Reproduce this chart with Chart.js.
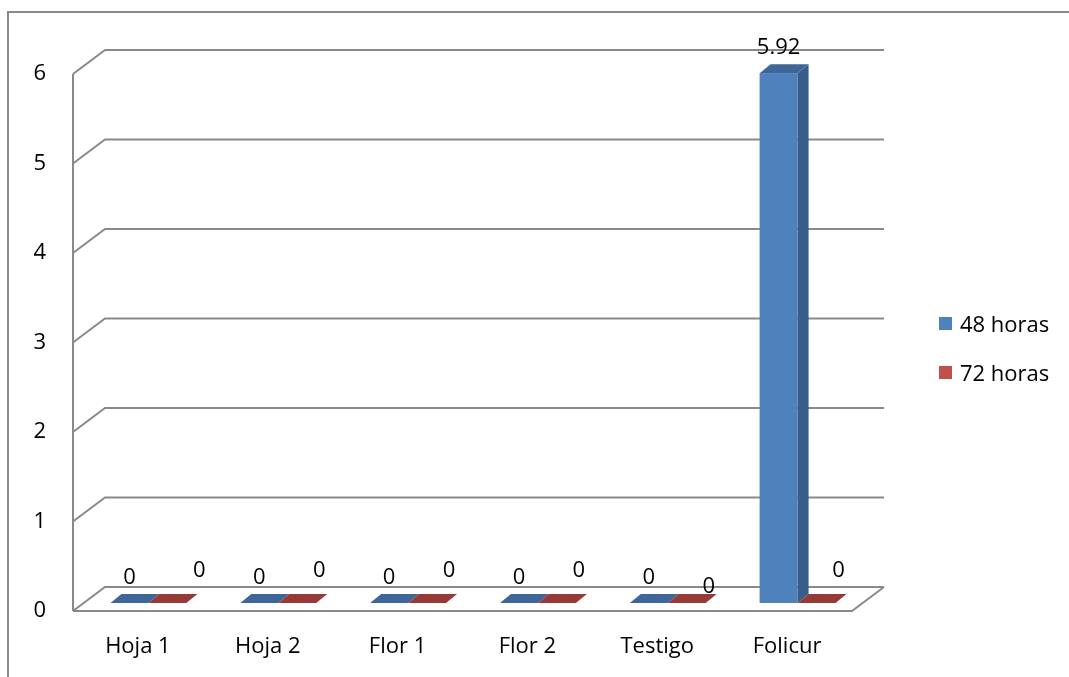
<!DOCTYPE html>
<html>
<head>
<meta charset="utf-8">
<script src="https://cdn.jsdelivr.net/npm/chart.js@4"></script>
<style>
  html, body { margin: 0; padding: 0; background: #ffffff; }
  #wrap { position: relative; width: 1069px; height: 677px; }
  canvas { display: block; }
</style>
</head>
<body>
<div id="wrap"><canvas id="chart" width="1069" height="677"></canvas></div>
<script>
// Data
const categories = ['Hoja 1', 'Hoja 2', 'Flor 1', 'Flor 2', 'Testigo', 'Folicur'];
const horas48 = [0, 0, 0, 0, 0, 5.92];
const horas72 = [0, 0, 0, 0, 0, 0];
const seriesNames = ['48 horas', '72 horas'];
const yTicks = [0, 1, 2, 3, 4, 5, 6];

const FONT = { family: "'Open Sans', 'DejaVu Sans', sans-serif", size: 22 };
const TEXT = '#000000';
const LINE = '#898989';

// face colours for each series: front, side, top
const faces = [
  { front: '#4f81bd', side: '#385d8a', top: '#3e6699' },
  { front: '#c0504d', side: '#8c3836', top: '#963a37' }
];

// 3D geometry: wall depth, offset of the bar front plane, bar depth
const WALL = { dx: 32, dy: -24 };
const BARFRONT = { dx: 10.5, dy: -8 };
const BARDEPTH = { dx: 11, dy: -9 };

function poly(ctx, pts, fill) {
  ctx.beginPath();
  ctx.moveTo(pts[0][0], pts[0][1]);
  for (let i = 1; i < pts.length; i++) ctx.lineTo(pts[i][0], pts[i][1]);
  ctx.closePath();
  ctx.fillStyle = fill;
  ctx.fill();
}

const box3d = {
  id: 'box3d',
  beforeDraw(chart) {
    const ctx = chart.ctx;
    ctx.save();
    ctx.strokeStyle = LINE;
    ctx.lineWidth = 2;
    ctx.beginPath();
    ctx.moveTo(8, 677);
    ctx.lineTo(8, 12);
    ctx.lineTo(1069, 12);
    ctx.stroke();
    ctx.restore();
  },
  beforeDatasetsDraw(chart) {
    const ctx = chart.ctx;
    const ys = chart.scales.y;
    const a = chart.chartArea;
    ctx.save();
    ctx.strokeStyle = LINE;
    ctx.lineWidth = 2;
    ctx.lineJoin = 'miter';
    // back wall gridlines with their side-wall connectors
    yTicks.forEach(v => {
      const py = ys.getPixelForValue(v);
      ctx.beginPath();
      ctx.moveTo(a.left, py);
      ctx.lineTo(a.left + WALL.dx, py + WALL.dy);
      ctx.lineTo(a.right + WALL.dx, py + WALL.dy);
      ctx.stroke();
    });
    // front edge of the side wall
    ctx.beginPath();
    ctx.moveTo(a.left, ys.getPixelForValue(yTicks[yTicks.length - 1]));
    ctx.lineTo(a.left, a.bottom);
    ctx.stroke();
    // floor front edge and right edge
    const fy = ys.getPixelForValue(0);
    ctx.beginPath();
    ctx.moveTo(a.left, fy);
    ctx.lineTo(a.right, fy);
    ctx.lineTo(a.right + WALL.dx, fy + WALL.dy);
    ctx.stroke();
    ctx.restore();
  },
  beforeDatasetDraw() {
    return false;
  },
  afterDatasetsDraw(chart) {
    const ctx = chart.ctx;
    ctx.save();
    const n = chart.data.labels.length;
    const bars = [];
    for (let i = 0; i < n; i++) {
      chart.data.datasets.forEach((ds, di) => {
        const el = chart.getDatasetMeta(di).data[i];
        bars.push({ el, di, i, v: ds.data[i] });
      });
    }
    bars.forEach(({ el, di }) => {
      const f = faces[di];
      const x0 = el.x - el.width / 2 + BARFRONT.dx;
      const x1 = el.x + el.width / 2 + BARFRONT.dx;
      const yt = el.y + BARFRONT.dy;
      const yb = el.base + BARFRONT.dy;
      if (yb - yt > 0.5) {
        ctx.fillStyle = f.front;
        ctx.fillRect(x0, yt, x1 - x0, yb - yt);
        poly(ctx, [[x1, yt], [x1 + BARDEPTH.dx, yt + BARDEPTH.dy], [x1 + BARDEPTH.dx, yb + BARDEPTH.dy], [x1, yb]], f.side);
      }
      poly(ctx, [[x0, yt], [x0 + BARDEPTH.dx, yt + BARDEPTH.dy], [x1 + BARDEPTH.dx, yt + BARDEPTH.dy], [x1, yt]], f.top);
    });

    // value labels
    const opts = chart.options.plugins.box3d;
    ctx.font = `${FONT.size}px ${FONT.family}`;
    ctx.fillStyle = TEXT;
    ctx.textAlign = 'center';
    ctx.textBaseline = 'alphabetic';
    bars.forEach(({ el, di, i, v }) => {
      const cx = el.x + BARFRONT.dx;
      const yt = el.y + BARFRONT.dy;
      const off = opts.labelOffset[di];
      const nudge = (opts.labelNudge[di] && opts.labelNudge[di][i]) || [0, 0];
      const lx = cx + off[0] + nudge[0];
      const ly = yt + off[1] + nudge[1];
      ctx.fillText(String(v), lx, ly + 8);
    });

    // legend
    ctx.textAlign = 'left';
    chart.data.datasets.forEach((ds, di) => {
      const cy = opts.legendY[di];
      ctx.fillStyle = faces[di].front;
      ctx.fillRect(opts.legendX, cy - 6.5, 13, 13);
      ctx.fillStyle = TEXT;
      ctx.fillText(ds.label, opts.legendX + 21, cy + 8);
    });
    ctx.restore();
  }
};

new Chart(document.getElementById('chart'), {
  type: 'bar',
  data: {
    labels: categories,
    datasets: [
      { label: seriesNames[0], data: horas48, backgroundColor: faces[0].front },
      { label: seriesNames[1], data: horas72, backgroundColor: faces[1].front }
    ]
  },
  options: {
    responsive: false,
    animation: false,
    devicePixelRatio: 1,
    categoryPercentage: 0.585,
    barPercentage: 1.0,
    layout: { padding: { left: 0, top: 74, right: 217, bottom: 0 } },
    plugins: {
      legend: { display: false },
      tooltip: { enabled: false },
      box3d: {
        labelOffset: [[0, -27], [22, -34]],
        labelNudge: [null, { 0: [10, 0], 4: [0, 16] }],
        legendX: 939,
        legendY: [323.5, 372.5]
      }
    },
    scales: {
      x: {
        grid: { display: false, drawTicks: false },
        border: { display: false },
        ticks: { font: FONT, color: TEXT, padding: 23, maxRotation: 0 },
        afterFit(s) { s.height = 66; }
      },
      y: {
        min: 0,
        max: 6,
        grid: { display: false, drawTicks: false },
        border: { display: false },
        ticks: { font: FONT, color: TEXT, padding: 27, stepSize: 1 },
        afterBuildTicks(s) { s.ticks = yTicks.map(v => ({ value: v })); },
        afterFit(s) { s.width = 73; }
      }
    }
  },
  plugins: [box3d]
});
</script>
</body>
</html>
